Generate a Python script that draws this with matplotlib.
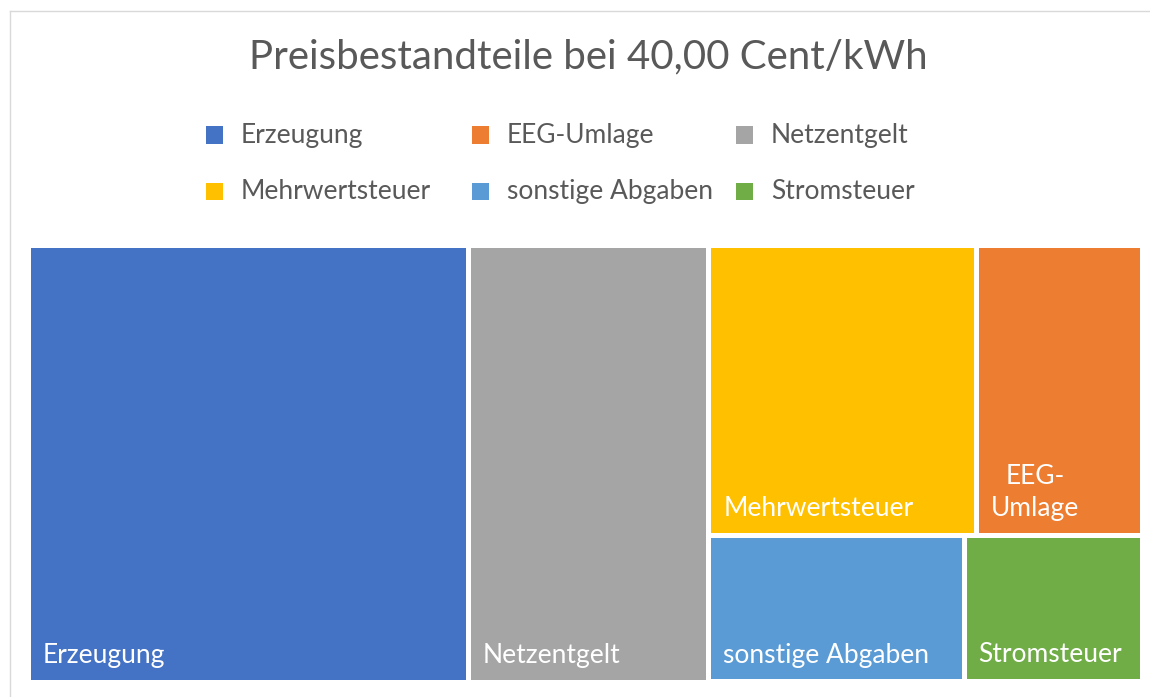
import matplotlib
matplotlib.use("Agg")
import matplotlib.pyplot as plt
from matplotlib.patches import Rectangle
from matplotlib.lines import Line2D

# Werte (Cent/kWh), absteigend sortiert wie im Treemap
labels = ["Erzeugung", "Netzentgelt", "Mehrwertsteuer", "EEG-Umlage",
          "sonstige Abgaben", "Stromsteuer"]
tile_labels = ["Erzeugung", "Netzentgelt", "Mehrwertsteuer", "EEG-\nUmlage",
               "sonstige Abgaben", "Stromsteuer"]
values = [15.80, 8.65, 6.39, 3.95, 3.07, 2.14]
colors = ["#4472C4", "#A5A5A5", "#FFC000", "#ED7D31", "#5B9BD5", "#70AD47"]
legend_order = ["Erzeugung", "EEG-Umlage", "Netzentgelt",
                "Mehrwertsteuer", "sonstige Abgaben", "Stromsteuer"]
title = "Preisbestandteile bei 40,00 Cent/kWh"

plt.rcParams["font.family"] = ["Lato", "DejaVu Sans"]

FW, FH = 1150, 697


def worst(row, side):
    s = sum(row)
    return max(max(side * side * r / (s * s), s * s / (side * side * r)) for r in row)


def squarify(vals, x, y, dx, dy):
    total = sum(vals)
    areas = [v * dx * dy / total for v in vals]
    rects = []
    i = 0
    while i < len(areas):
        short = min(dx, dy)
        row = [areas[i]]
        j = i + 1
        while j < len(areas) and worst(row + [areas[j]], short) <= worst(row, short):
            row.append(areas[j])
            j += 1
        s = sum(row)
        if dx >= dy:
            w = s / dy
            yy = y
            for a in row:
                h = a / w
                rects.append((x, yy, w, h))
                yy += h
            x += w
            dx -= w
        else:
            h = s / dx
            xx = x
            for a in row:
                w = a / h
                rects.append((xx, y, w, h))
                xx += w
            y += h
            dy -= h
        i = j
    return rects


W, H = 1114, 437
fig = plt.figure(figsize=(FW / 100, FH / 100), dpi=100)
ax = fig.add_axes([28 / FW, 1 - 682 / FH, W / FW, H / FH])
ax.set_xlim(0, W)
ax.set_ylim(H, 0)
ax.axis("off")

gap = 2.5
for (x, y, w, h), lab, c in zip(squarify(values, 0, 0, W, H), tile_labels, colors):
    ax.add_patch(Rectangle((x + gap, y + gap), w - 2 * gap, h - 2 * gap,
                           facecolor=c, edgecolor="none"))
    ax.text(x + gap + 12, y + h - gap - 17, lab, color="white", fontsize=19,
            ha="left", va="baseline", multialignment="center",
            linespacing=1.35)

fig.text(588 / FW, 1 - 57 / FH, title, ha="center", va="center",
         fontsize=29, color="#595959")

# Legende: 3 Spalten gleicher Breite, 2 Zeilen
col_x = [206, 472, 736]
row_y = [135, 192]
sq = 17
for k, name in enumerate(legend_order):
    cx = col_x[k % 3]
    cy = row_y[k // 3]
    fig.add_artist(Rectangle((cx / FW, 1 - (cy + sq / 2) / FH), sq / FW, sq / FH,
                             facecolor=colors[labels.index(name)],
                             edgecolor="none", transform=fig.transFigure))
    fig.text((cx + 35) / FW, 1 - cy / FH, name, ha="left", va="center",
             fontsize=19, color="#595959")

# dünner grauer Rahmen oben und links
fig.add_artist(Line2D([10 / FW, 1], [1 - 11 / FH] * 2, color="#d9d9d9", lw=1))
fig.add_artist(Line2D([10 / FW] * 2, [0, 1 - 11 / FH], color="#d9d9d9", lw=1))

fig.savefig("out.png", dpi=100, facecolor="white")
